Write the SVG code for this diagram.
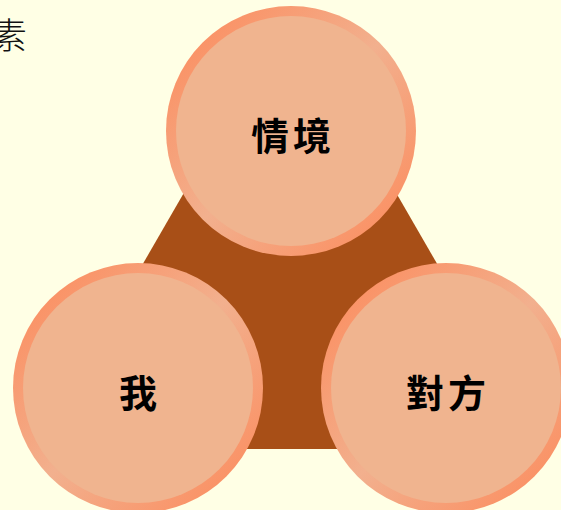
<svg xmlns="http://www.w3.org/2000/svg" width="561" height="510" viewBox="0 0 561 510">
<defs>
<linearGradient id="ring" x1="0" y1="0" x2="1" y2="1">
<stop offset="0" stop-color="#FD8858"/>
<stop offset="0.5" stop-color="#F2B08E"/>
<stop offset="1" stop-color="#FD8858"/>
</linearGradient>
<style>
.outer{fill:url(#ring);}
.inner{fill:#F0B48F;}
.lbl{font-family:"Noto Sans CJK TC","Noto Sans CJK SC",sans-serif;font-weight:bold;font-size:38px;fill:#000;text-anchor:middle;dominant-baseline:central;letter-spacing:4px;}
</style>
</defs>
<rect width="561" height="510" fill="#FFFFE5"/>
<text x="27" y="49" text-anchor="end" font-family="'Noto Sans CJK TC','Noto Sans CJK SC',serif" font-size="36" font-weight="300" fill="#111">素</text>
<g id="connectors">
<polygon points="290,9 36,449 544,449" fill="#A84F17"/>
</g>
<g id="node-situation">
<circle class="outer" cx="291" cy="131" r="125"/>
<circle class="inner" cx="291" cy="131" r="115"/>
<text class="lbl" x="293" y="133">情境</text>
</g>
<g id="node-self">
<circle class="outer" cx="138" cy="388" r="125"/>
<circle class="inner" cx="138" cy="388" r="115"/>
<text class="lbl" x="140" y="390">我</text>
</g>
<g id="node-other">
<circle class="outer" cx="446" cy="388" r="125"/>
<circle class="inner" cx="446" cy="388" r="115"/>
<text class="lbl" x="448" y="390">對方</text>
</g>
</svg>
